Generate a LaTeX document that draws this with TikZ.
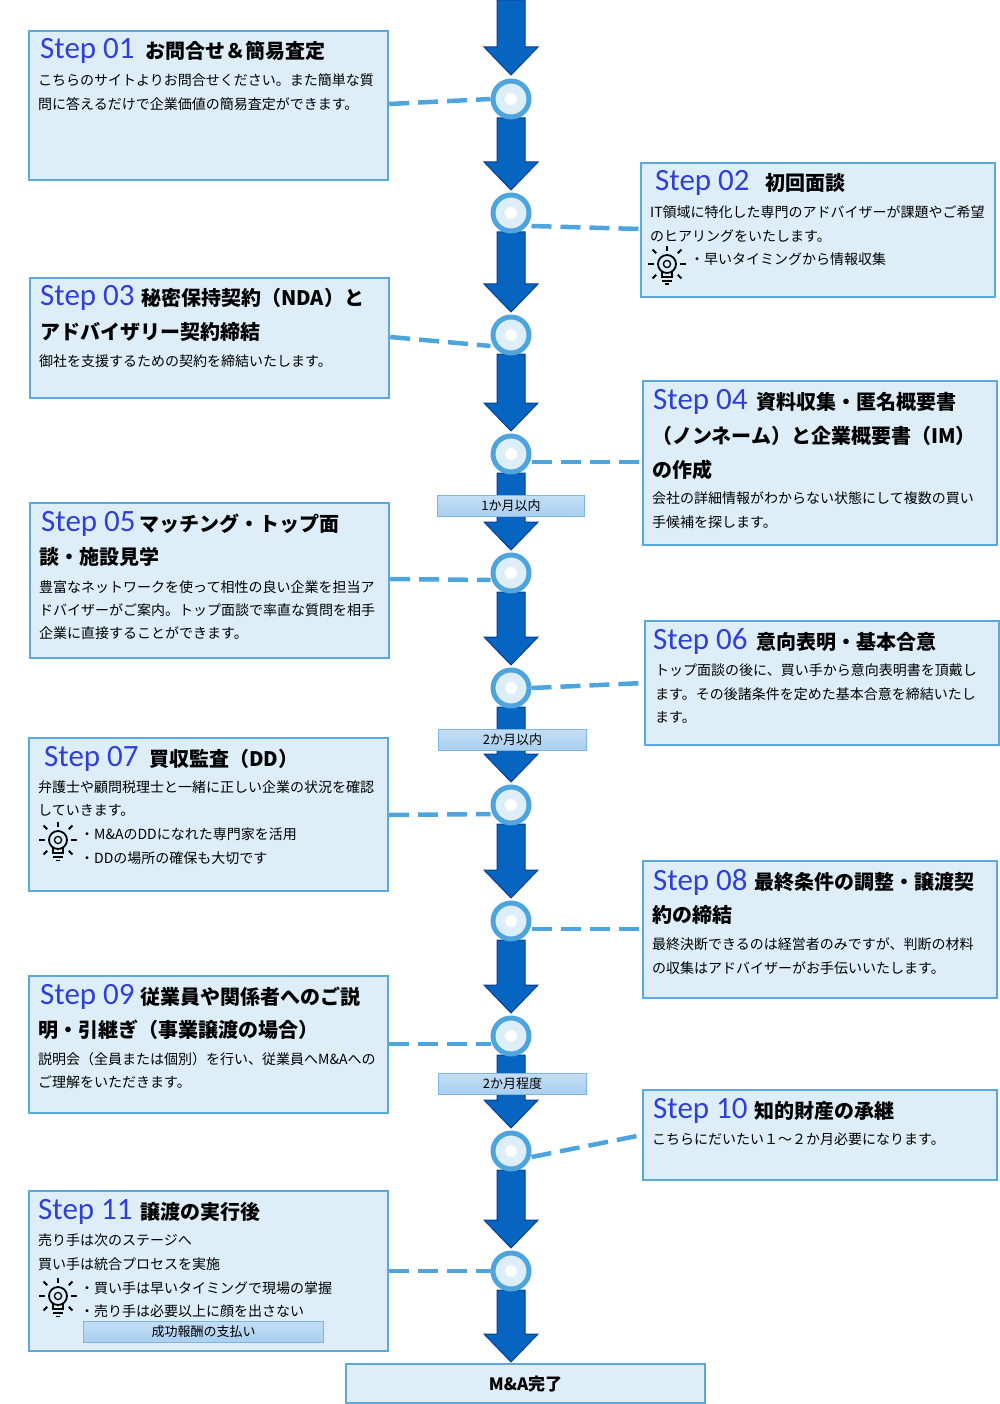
\documentclass[tikz,border=0pt]{standalone}
\usepackage{fontspec}
\setmainfont{Noto Sans CJK JP}
\newfontfamily\stepf{Carlito}
\usetikzlibrary{shapes.geometric}
\definecolor{boxf}{HTML}{DDEEF8}
\definecolor{boxd}{HTML}{5BA8DC}
\definecolor{arrf}{HTML}{0665C0}
\definecolor{arrd}{HTML}{0B3D91}
\definecolor{ring}{HTML}{4EA5DD}
\definecolor{ttl}{HTML}{2F3FD8}
\definecolor{tagf}{HTML}{A9CFF0}
\definecolor{tagd}{HTML}{7DB6E6}
\newcommand\arr[2]{\draw[arrs] (497,#1)--(525,#1)--(525,#2-28)--(538,#2-28)--(511,#2)--(484,#2-28)--(497,#2-28)--cycle;}
\newcommand\bulb[2]{\begin{scope}[shift={(#1,#2)},scale=1.2,line width=1.8pt,black]
\draw (0,0) circle (7.5);
\draw[line width=1.3pt] (0,0) circle (3);
\draw (-4,7)--(-4,11)--(4,11)--(4,7);
\draw (-4,14)--(4,14);\draw (-2,17)--(2,17);
\draw (0,-11)--(0,-15);\draw (-11,0)--(-16,0);\draw (11,0)--(16,0);
\draw (-9,-9)--(-12,-12);\draw (9,-9)--(12,-12);
\draw (-9,9)--(-12,12);\draw (9,9)--(12,12);
\end{scope}}
\begin{document}
\begin{tikzpicture}[x=1pt,y=-1pt,
 box/.style={draw=boxd,line width=2.2pt,fill=boxf,rectangle,anchor=north west,inner sep=0pt},
 arrs/.style={fill=arrf,draw=arrd,line width=1pt},
 circ/.style={circle,draw=ring,line width=5pt,fill=boxf,minimum size=36pt,inner sep=0pt},
 dcon/.style={draw=ring,line width=4.5pt,dash pattern=on 20pt off 9pt},
 st/.style={anchor=west,inner sep=0pt,font=\stepf\fontsize{31}{31}\selectfont,text=ttl},
 tt/.style={anchor=west,inner sep=0pt,font=\bfseries\fontsize{20}{20}\selectfont},
 tx/.style={anchor=west,inner sep=0pt,font=\fontsize{14}{14}\selectfont},
 tag/.style={draw=tagd,line width=1pt,top color=tagf!70!white,bottom color=tagf,anchor=north west,inner sep=0pt,font=\fontsize{13}{13}\selectfont}]
\useasboundingbox (0,0) rectangle (1000,1404);
% arrows
\arr{0}{75}\arr{118}{190}\arr{232}{312}\arr{354}{431}\arr{473}{550}\arr{592}{665}
\arr{707}{782}\arr{824}{898}\arr{940}{1013}\arr{1055}{1128}\arr{1170}{1248}\arr{1290}{1362}
% circles
\foreach \i/\y in {1/99,2/213,3/335,4/454,5/573,6/688,7/805,8/921,9/1036,10/1151,11/1271}{
 \node[circ] (c\i) at (511,\y) {};
 \fill[white] (511,\y) circle (6);}
% duration tags
\node[tag,minimum width=147pt,minimum height=21pt] (d1) at (437,495) {1か月以内};
\node[tag,minimum width=148pt,minimum height=21pt] (d2) at (438,729) {2か月以内};
\node[tag,minimum width=148pt,minimum height=21pt] (d3) at (438,1073) {2か月程度};
% boxes
\node[box,minimum width=359pt,minimum height=149pt] (b1) at (28,30) {};
\node[box,minimum width=354pt,minimum height=134pt] (b2) at (640,162) {};
\node[box,minimum width=359pt,minimum height=120pt] (b3) at (29,277) {};
\node[box,minimum width=354pt,minimum height=164pt] (b4) at (642,380) {};
\node[box,minimum width=359pt,minimum height=155pt] (b5) at (29,502) {};
\node[box,minimum width=354pt,minimum height=124pt] (b6) at (644,620) {};
\node[box,minimum width=359pt,minimum height=153pt] (b7) at (28,737) {};
\node[box,minimum width=354pt,minimum height=137pt] (b8) at (642,860) {};
\node[box,minimum width=359pt,minimum height=137pt] (b9) at (28,975) {};
\node[box,minimum width=354pt,minimum height=90pt] (b10) at (642,1089) {};
\node[box,minimum width=359pt,minimum height=160pt] (b11) at (28,1190) {};
\node[box,minimum width=359pt,minimum height=39pt] (b12) at (345,1363) {};
\node[font=\bfseries\fontsize{17}{17}\selectfont] (fin) at (b12.center) {M\&A完了};
% connectors
\draw[dcon] ([yshift=-74pt]b1.north east) -- ([yshift=0pt]c1.west);
\draw[dcon] ([yshift=-13pt]c2.east) -- ([yshift=-67pt]b2.north west);
\draw[dcon] ([yshift=-60pt]b3.north east) -- ([yshift=-11pt]c3.west);
\draw[dcon] ([yshift=-8pt]c4.east) -- ([yshift=-82pt]b4.north west);
\draw[dcon] ([yshift=-77pt]b5.north east) -- ([yshift=-7pt]c5.west);
\draw[dcon] ([yshift=0pt]c6.east) -- ([yshift=-63pt]b6.north west);
\draw[dcon] ([yshift=-78pt]b7.north east) -- ([yshift=-9pt]c7.west);
\draw[dcon] ([yshift=-8pt]c8.east) -- ([yshift=-69pt]b8.north west);
\draw[dcon] ([yshift=-69pt]b9.north east) -- ([yshift=-8pt]c9.west);
\draw[dcon] ([yshift=-6pt]c10.east) -- ([yshift=-46pt]b10.north west);
\draw[dcon] ([yshift=-81pt]b11.north east) -- ([yshift=0pt]c11.west);
% texts step 01
\node[st] (s1) at (40,51) {Step 01}; \node[tt] (t1) at (145,51) {お問合せ＆簡易査定};
\node[tx] (x1a) at (38,80) {こちらのサイトよりお問合せください。また簡単な質};
\node[tx] (x1b) at (38,104) {問に答えるだけで企業価値の簡易査定ができます。};
% 02
\node[st] (s2) at (655,183) {Step 02}; \node[tt] (t2) at (765,183) {初回面談};
\node[tx] (x2a) at (650,212) {IT領域に特化した専門のアドバイザーが課題やご希望};
\node[tx] (x2b) at (650,236) {のヒアリングをいたします。};
\bulb{667}{264}
\node[tx] (x2c) at (690,259) {・早いタイミングから情報収集};
% 03
\node[st] (s3) at (40,298) {Step 03}; \node[tt] (t3) at (141,298) {秘密保持契約（NDA）と};
\node[tt] (t3b) at (40,332) {アドバイザリー契約締結};
\node[tx] (x3a) at (39,361) {御社を支援するための契約を締結いたします。};
% 04
\node[st] (s4) at (653,402) {Step 04}; \node[tt] (t4) at (756,402) {資料収集・匿名概要書};
\node[tt] (t4b) at (652,436) {（ノンネーム）と企業概要書（IM）};
\node[tt] (t4c) at (652,470) {の作成};
\node[tx] (x4a) at (652,498) {会社の詳細情報がわからない状態にして複数の買い};
\node[tx] (x4b) at (652,522) {手候補を探します。};
% 05
\node[st] (s5) at (41,524) {Step 05}; \node[tt] (t5) at (139,524) {マッチング・トップ面};
\node[tt] (t5b) at (39,557) {談・施設見学};
\node[tx] (x5a) at (39,587) {豊富なネットワークを使って相性の良い企業を担当ア};
\node[tx] (x5b) at (39,610) {ドバイザーがご案内。トップ面談で率直な質問を相手};
\node[tx] (x5c) at (39,633) {企業に直接することができます。};
% 06
\node[st] (s6) at (653,642) {Step 06}; \node[tt] (t6) at (756,642) {意向表明・基本合意};
\node[tx] (x6a) at (655,670) {トップ面談の後に、買い手から意向表明書を頂戴し};
\node[tx] (x6b) at (655,694) {ます。その後諸条件を定めた基本合意を締結いたし};
\node[tx] (x6c) at (655,717) {ます。};
% 07
\node[st] (s7) at (44,759) {Step 07}; \node[tt] (t7) at (149,759) {買収監査（DD）};
\node[tx] (x7a) at (38,787) {弁護士や顧問税理士と一緒に正しい企業の状況を確認};
\node[tx] (x7b) at (38,810) {していきます。};
\bulb{58}{840}
\node[tx] (x7c) at (80,834) {・M\&AのDDになれた専門家を活用};
\node[tx] (x7d) at (80,858) {・DDの場所の確保も大切です};
% 08
\node[st] (s8) at (653,882) {Step 08}; \node[tt] (t8) at (754,882) {最終条件の調整・譲渡契};
\node[tt] (t8b) at (652,915) {約の締結};
\node[tx] (x8a) at (652,944) {最終決断できるのは経営者のみですが、判断の材料};
\node[tx] (x8b) at (652,968) {の収集はアドバイザーがお手伝いいたします。};
% 09
\node[st] (s9) at (40,997) {Step 09}; \node[tt] (t9) at (140,997) {従業員や関係者へのご説};
\node[tt] (t9b) at (38,1030) {明・引継ぎ（事業譲渡の場合）};
\node[tx] (x9a) at (38,1059) {説明会（全員または個別）を行い、従業員へM\&Aへの};
\node[tx] (x9b) at (38,1082) {ご理解をいただきます。};
% 10
\node[st] (s10) at (653,1111) {Step 10}; \node[tt] (t10) at (754,1111) {知的財産の承継};
\node[tx] (x10a) at (652,1139) {こちらにだいたい１～２か月必要になります。};
% 11
\node[st] (s11) at (38,1212) {Step 11}; \node[tt] (t11) at (140,1212) {譲渡の実行後};
\node[tx] (x11a) at (38,1240) {売り手は次のステージへ};
\node[tx] (x11b) at (38,1264) {買い手は統合プロセスを実施};
\bulb{58}{1296}
\node[tx] (x11c) at (80,1288) {・買い手は早いタイミングで現場の掌握};
\node[tx] (x11d) at (80,1311) {・売り手は必要以上に顔を出さない};
\node[tag,minimum width=240pt,minimum height=21pt] (pay) at (83,1321) {成功報酬の支払い};
\end{tikzpicture}
\end{document}
